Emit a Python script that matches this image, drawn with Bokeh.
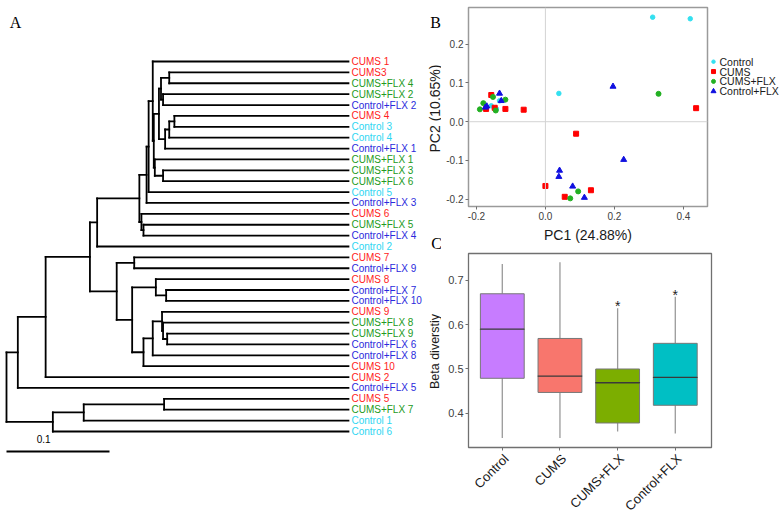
import math
from bokeh.plotting import figure
from bokeh.layouts import row, column
from bokeh.models import Range1d, FixedTicker, Label, Span, NumeralTickFormatter
from bokeh.core.properties import value
from bokeh.embed import file_html
from bokeh.resources import INLINE

FONT = "Liberation Sans"
SERIF = "Liberation Serif"

# ---------------- Panel A : dendrogram ----------------
leaf_labels = ["CUMS 1", "CUMS3", "CUMS+FLX 4", "CUMS+FLX 2", "Control+FLX 2", "CUMS 4",
               "Control 3", "Control 4", "Control+FLX 1", "CUMS+FLX 1", "CUMS+FLX 3",
               "CUMS+FLX 6", "Control 5", "Control+FLX 3", "CUMS 6", "CUMS+FLX 5",
               "Control+FLX 4", "Control 2", "CUMS 7", "Control+FLX 9", "CUMS 8",
               "Control+FLX 7", "Control+FLX 10", "CUMS 9", "CUMS+FLX 8", "CUMS+FLX 9",
               "Control+FLX 6", "Control+FLX 8", "CUMS 10", "CUMS 2", "Control+FLX 5",
               "CUMS 5", "CUMS+FLX 7", "Control 1", "Control 6"]
leaf_depth = 0.332
# (child a, child b, node distance from root); new nodes numbered after leaves
merges = [(1, 2, 0.158), (3, 4, 0.152), (35, 36, 0.150), (5, 6, 0.163), (38, 7, 0.158),
          (39, 8, 0.154), (37, 40, 0.148), (10, 11, 0.152), (9, 42, 0.144), (41, 43, 0.143),
          (0, 44, 0.142), (45, 12, 0.138), (46, 13, 0.136), (15, 16, 0.133), (14, 48, 0.131),
          (47, 49, 0.129), (50, 17, 0.088), (18, 19, 0.124), (21, 22, 0.155), (20, 53, 0.145),
          (25, 26, 0.156), (24, 55, 0.152), (23, 56, 0.151), (57, 27, 0.142), (58, 28, 0.133),
          (54, 59, 0.122), (52, 60, 0.107), (51, 61, 0.081), (62, 29, 0.038), (63, 30, 0.011),
          (31, 32, 0.153), (65, 33, 0.075), (66, 34, 0.045), (64, 67, 0.0)]
scale_bar = 0.1

label_colors = {"Control": "#2ED6F2", "CUMS": "#FF2222",
                "CUMS+FLX": "#229A22", "Control+FLX": "#2A2ADC"}


def group_of(name):
    for g in ["Control+FLX", "CUMS+FLX", "CUMS", "Control"]:
        if name.startswith(g):
            return g


n_leaf = len(leaf_labels)
node_x = [leaf_depth] * n_leaf
node_y = list(range(n_leaf))
sx0, sy0, sx1, sy1 = [], [], [], []
for a, b, h in merges:
    sx0.append(h); sx1.append(h); sy0.append(node_y[a]); sy1.append(node_y[b])
    for c in (a, b):
        sx0.append(h); sx1.append(node_x[c]); sy0.append(node_y[c]); sy1.append(node_y[c])
    node_x.append(h)
    node_y.append((node_y[a] + node_y[b]) / 2)

TOTAL_W, TOTAL_H = 784, 515
WA = 441
PX_PER_UNIT = 1030.0
LEAF_STEP = 10.882
x0A = -6 / PX_PER_UNIT
pA = figure(width=WA, height=TOTAL_H, x_range=Range1d(x0A, x0A + WA / PX_PER_UNIT),
            y_range=Range1d((TOTAL_H - 61) / LEAF_STEP, -61 / LEAF_STEP),
            toolbar_location=None, output_backend="svg",
            x_axis_type=None, y_axis_type=None, min_border=0, outline_line_color=None)
pA.grid.visible = False
pA.segment(x0=sx0, y0=sy0, x1=sx1, y1=sy1, line_color="black", line_width=1.8,
           line_cap="square")
pA.text(x=[leaf_depth] * n_leaf, y=list(range(n_leaf)), text=leaf_labels,
        text_color=[label_colors[group_of(n)] for n in leaf_labels],
        x_offset=3, text_baseline="middle", text_align="left",
        text_font=value(FONT), text_font_size="10px")
bar_y = (451 - 61) / LEAF_STEP
pA.segment(x0=[0], y0=[bar_y], x1=[scale_bar], y1=[bar_y], line_color="black", line_width=1.8)
pA.text(x=[scale_bar * 0.36], y=[bar_y], y_offset=-13, text=[str(scale_bar)],
        text_baseline="middle", text_align="center", text_font=value(FONT),
        text_font_size="10px", text_color="black")


def screen_label(p, x, y_from_top, text, size, angle=0.0, font=FONT, color="black"):
    p.add_layout(Label(x=x, y=TOTAL_H - y_from_top, x_units="screen", y_units="screen",
                       text=text, text_font=font, text_font_size=size, angle=angle,
                       text_baseline="middle", text_align="center", text_color=color))


screen_label(pA, 15, 22, "A", "16px", font=SERIF)
screen_label(pA, 435, 22, "B", "16px", font=SERIF)
screen_label(pA, 434, 108, "PC2 (10.65%)", "14px", angle=math.pi / 2, color="#1a1a1a")
screen_label(pA, 436, 243, "C", "16px", font=SERIF)
screen_label(pA, 434, 351, "Beta diverstiy", "12.5px", angle=math.pi / 2, color="#1a1a1a")

# ---------------- Panel B : PCA ----------------
groups = ["Control", "CUMS", "CUMS+FLX", "Control+FLX"]
control_pc1 = [0.039, -0.133, -0.157, -0.142, 0.311, 0.420]
control_pc2 = [0.073, 0.054, 0.041, 0.033, 0.270, 0.266]
cums_pc1 = [-0.157, -0.172, -0.147, -0.116, -0.063, 0.089, 0.437, 0.000, 0.056, 0.132]
cums_pc2 = [0.069, 0.033, 0.036, 0.033, 0.031, -0.031, 0.035, -0.166, -0.194, -0.177]
cumsflx_pc1 = [-0.190, -0.180, -0.152, -0.116, -0.144, 0.328, 0.095, 0.072]
cumsflx_pc2 = [0.032, 0.048, 0.064, 0.057, 0.029, 0.072, -0.180, -0.198]
ctrlflx_pc1 = [-0.133, -0.128, -0.170, -0.174, 0.196, 0.041, 0.039, 0.079, 0.113, 0.227]
ctrlflx_pc2 = [0.073, 0.054, 0.040, 0.037, 0.091, -0.126, -0.142, -0.167, -0.196, -0.098]
pc1_ticks = [-0.2, 0.0, 0.2, 0.4]
pc2_ticks = [-0.2, -0.1, 0.0, 0.1, 0.2]

pca_colors = ["#33E0F0", "#FF0000", "#22B022", "#1010E0"]
pca_markers = ["circle", "square", "circle", "triangle"]
pca_sizes = [4.5, 5, 5, 6]

HB = 245
B_LEFT, B_RIGHT_EDGE = 27, 709
B_TOP, B_BOTTOM = 7, 36
pc2_range = Range1d(-0.219, 0.295)
pB = figure(width=B_RIGHT_EDGE - WA, height=HB, x_range=Range1d(-0.223, 0.47),
            y_range=pc2_range, toolbar_location=None, output_backend="svg",
            min_border_left=B_LEFT, min_border_right=2, min_border_top=B_TOP,
            min_border_bottom=B_BOTTOM)
pB.grid.visible = False
pB.outline_line_color = "#9a9a9a"
pB.outline_line_width = 1.5
pB.add_layout(Span(location=0, dimension="height", line_color="#d4d4d4", line_width=1))
pB.add_layout(Span(location=0, dimension="width", line_color="#d4d4d4", line_width=1))
for (xs, ys), col, mk, sz in zip([(control_pc1, control_pc2), (cums_pc1, cums_pc2),
                                   (cumsflx_pc1, cumsflx_pc2), (ctrlflx_pc1, ctrlflx_pc2)],
                                  pca_colors, pca_markers, pca_sizes):
    pB.scatter(x=xs, y=ys, marker=mk, size=sz, fill_color=col, line_color=col)
pB.xaxis.ticker = FixedTicker(ticks=pc1_ticks)
pB.yaxis.ticker = FixedTicker(ticks=pc2_ticks)
pB.axis.formatter = NumeralTickFormatter(format="0.0")
pB.xaxis.axis_label = "PC1 (24.88%)"

# legend drawn in its own small figure to the right of panel B (same vertical scale)
pL = figure(width=TOTAL_W - B_RIGHT_EDGE, height=HB, x_range=Range1d(0, TOTAL_W - B_RIGHT_EDGE),
            y_range=pc2_range, toolbar_location=None, output_backend="svg",
            x_axis_type=None, y_axis_type=None, min_border_left=0, min_border_right=0,
            min_border_top=B_TOP, min_border_bottom=B_BOTTOM, outline_line_color=None)
pL.grid.visible = False
leg_step = 10 / 393.0
leg_rows = [0.155 - leg_step * i for i in range(len(groups))]
for yy, col, mk, sz in zip(leg_rows, pca_colors, pca_markers, pca_sizes):
    pL.scatter(x=[4], y=[yy], marker=mk, size=sz - 1, fill_color=col, line_color=col)
pL.text(x=[10] * len(groups), y=leg_rows, text=groups, text_baseline="middle",
        text_align="left", text_font=value(FONT), text_font_size="10.5px",
        text_color="#1a1a1a")

# ---------------- Panel C : boxplot ----------------
whisker_low = [0.344, 0.344, 0.359, 0.354]
q1 = [0.479, 0.447, 0.378, 0.418]
median = [0.590, 0.484, 0.469, 0.481]
q3 = [0.670, 0.569, 0.500, 0.558]
whisker_high = [0.737, 0.741, 0.637, 0.663]
signif = ["", "", "*", "*"]
box_colors = ["#C77CFF", "#F8766D", "#7CAE00", "#00BFC4"]
y_ticks_c = [0.4, 0.5, 0.6, 0.7]

pos = list(range(len(groups)))
C_LEFT, C_RIGHT = 27, TOTAL_W - 711
HC = 206
cx_range = Range1d(-0.586, len(groups) - 1 + 0.628)
pC = figure(width=TOTAL_W - WA, height=HC, x_range=cx_range,
            y_range=Range1d(0.3226, 0.761), toolbar_location=None, output_backend="svg",
            min_border_left=C_LEFT, min_border_right=C_RIGHT, min_border_top=8,
            min_border_bottom=4)
pC.grid.visible = False
pC.outline_line_color = "#707070"
pC.outline_line_width = 1.3
pC.segment(x0=pos, y0=whisker_low, x1=pos, y1=q1, line_color="#9a9a9a", line_width=1.3)
pC.segment(x0=pos, y0=q3, x1=pos, y1=whisker_high, line_color="#9a9a9a", line_width=1.3)
pC.vbar(x=pos, bottom=q1, top=q3, width=0.76, fill_color=box_colors, line_color="#777777",
        line_width=1)
pC.rect(x=pos, y=median, width=0.76, height=0.0001, line_color="#3a3a3a", line_width=1.3,
        fill_color=None)
pC.text(x=pos, y=whisker_high, text=signif, text_align="center", text_baseline="alphabetic",
        y_offset=-2, text_font=value(FONT), text_font_size="14px", text_color="#222222")
pC.xaxis.ticker = FixedTicker(ticks=pos)
pC.xaxis.major_label_overrides = {i: "" for i in pos}
pC.xaxis.major_label_text_font_size = "0px"
pC.yaxis.ticker = FixedTicker(ticks=y_ticks_c)
pC.yaxis.formatter = NumeralTickFormatter(format="0.0")

# rotated group names under panel C, on the same x scale as the boxes
HCX = TOTAL_H - HB - HC
pCx = figure(width=TOTAL_W - WA, height=HCX, x_range=cx_range, y_range=Range1d(HCX, 0),
             toolbar_location=None, output_backend="svg", x_axis_type=None, y_axis_type=None,
             min_border_left=C_LEFT, min_border_right=C_RIGHT, min_border_top=0,
             min_border_bottom=0, outline_line_color=None)
pCx.grid.visible = False
pCx.text(x=pos, y=[5] * len(pos), text=groups, angle=math.pi / 4, text_align="right",
         text_baseline="middle", x_offset=4, text_font=value(FONT), text_font_size="13px",
         text_color="#1a1a1a")

for p in (pB, pC):
    for ax in p.axis:
        ax.axis_line_color = None
        ax.major_tick_line_color = "#707070"
        ax.major_tick_out = 3
        ax.major_tick_in = 0
        ax.minor_tick_line_color = None
        ax.major_label_text_font = FONT
        ax.major_label_text_color = "#404040"
        ax.major_label_standoff = 2
        ax.axis_label_text_font = FONT
        ax.axis_label_text_font_style = "normal"
        ax.axis_label_text_color = "#1a1a1a"
        ax.axis_label_standoff = 4
pB.axis.major_label_text_font_size = "10px"
pB.axis.axis_label_text_font_size = "14px"
pC.yaxis.major_label_text_font_size = "11px"
pC.xaxis.major_label_standoff = 0

layout = row(pA, column(row(pB, pL, spacing=0), pC, pCx, spacing=0), spacing=0)
open("out.html", "w").write(file_html(layout, INLINE))
